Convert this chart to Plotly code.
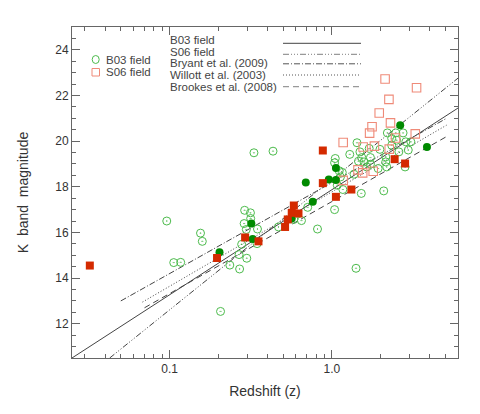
import plotly.graph_objects as go

# B03 field, open symbols
b03_z = [0.096, 0.106, 0.117, 0.155, 0.159, 0.206, 0.235, 0.268, 0.270, 0.278,
         0.288, 0.290, 0.297, 0.299, 0.315, 0.316, 0.331, 0.346, 0.348, 0.434,
         0.469, 0.583, 0.650, 0.710, 0.816, 1.04, 1.05, 1.04, 1.08, 1.11,
         1.13, 1.16, 1.17, 1.29, 1.37, 1.41, 1.43, 1.46, 1.49, 1.52,
         1.53, 1.58, 1.64, 1.70, 1.73, 1.73, 1.93, 1.98, 2.09, 2.15,
         2.15, 2.18, 2.20, 2.34, 2.34, 2.48, 2.51, 2.59, 2.75, 2.83,
         2.86, 2.96, 3.07]
b03_k = [16.50, 14.68, 14.69, 15.97, 15.61, 12.54, 14.57, 15.03, 14.40, 15.48,
         16.39, 16.97, 16.13, 14.87, 16.86, 16.61, 19.49, 15.51, 16.15, 19.56,
         16.24, 16.57, 16.52, 17.10, 16.15, 19.05, 19.24, 17.00, 18.07, 18.70,
         18.43, 18.63, 17.88, 19.42, 18.55, 14.43, 19.93, 19.12, 19.53, 17.71,
         19.28, 19.09, 18.87, 19.68, 19.28, 18.99, 18.80, 19.64, 17.82, 19.09,
         19.31, 18.87, 20.36, 20.12, 19.82, 20.36, 20.04, 19.53, 20.36, 18.87,
         19.97, 19.61, 19.97]

# B03 field, filled symbols
b03f_z = [0.203, 0.319, 0.325, 0.566, 0.691, 0.763, 0.958, 1.06, 1.06, 2.64, 3.86]
b03f_k = [15.13, 16.39, 15.71, 16.61, 18.19, 17.34, 18.32, 18.82, 18.30, 20.70, 19.74]

# S06 field, open symbols
s06_z = [2.13, 3.33, 2.25, 1.96, 2.30, 1.77, 1.71, 3.27, 1.175, 2.47,
         1.56, 1.83, 2.26, 1.45, 1.55, 1.80, 1.175]
s06_k = [22.72, 22.34, 21.83, 21.23, 20.80, 20.63, 20.35, 20.32, 19.94, 20.14,
         19.74, 19.78, 19.65, 18.74, 18.61, 18.68, 18.28]

# S06 field, filled symbols
s06f_z = [0.0322, 0.196, 0.292, 0.353, 0.515, 0.535, 0.566, 0.583, 0.623,
          0.880, 0.880, 1.06, 1.32, 2.44, 2.83]
s06f_k = [14.55, 14.88, 15.78, 15.61, 16.24, 16.57, 16.86, 17.18, 16.83,
          19.59, 18.16, 17.56, 17.88, 19.21, 19.02]

# K-z relations (end points)
fit_b03_z = [0.025, 6.0]
fit_b03_k = [10.5, 21.45]
fit_s06_z = [0.0427, 6.0]
fit_s06_k = [10.5, 22.76]
bryant_z = [0.05, 5.1]
bryant_k = [13.0, 21.0]
willott_z = [0.068, 5.1]
willott_k = [12.95, 20.7]
brookes_z = [0.07, 5.1]
brookes_k = [12.7, 20.2]

line_names = ["B03 field", "S06 field", "Bryant et al. (2009)",
              "Willott et al. (2003)", "Brookes et al. (2008)"]
point_names = ["B03 field", "S06 field"]

FONT = "Liberation Sans, Arial, sans-serif"
LINE_COL = "#444444"
DASHES = ["solid", "6px,2px,1px,2px,1px,2px,1px,2px", "6px,2px,1px,2px",
          "1px,2px", "6px,4px"]
LEGEND_COLS = ["#444444", "#999999", "#555555", "#555555", "#999999"]

# page has an 8px body margin, so the figure is 8px smaller than the window
OFF = 8
W, H = 480 - OFF, 414 - OFF
# plot area (window pixels): x 72..458, y 27..358
L, T = 72 - OFF, 27 - OFF
PW, PH = 386, 331
R, B = W - L - PW, H - T - PH


def px(x):
    return (x - 72) / PW


def py(y):
    return (358 - y) / PH


fig = go.Figure()

fits = [(fit_b03_z, fit_b03_k), (fit_s06_z, fit_s06_k), (bryant_z, bryant_k),
        (willott_z, willott_k), (brookes_z, brookes_k)]
for (zz, kk), name, dash in zip(fits, line_names, DASHES):
    fig.add_trace(go.Scatter(x=zz, y=kk, mode="lines", name=name,
                             line=dict(color=LINE_COL, width=1, dash=dash)))

fig.add_trace(go.Scatter(x=b03_z, y=b03_k, mode="markers", name="B03 field",
                         marker=dict(symbol="circle-open-dot", size=8, color="#4cbb4c",
                                     line=dict(width=1))))
fig.add_trace(go.Scatter(x=s06_z, y=s06_k, mode="markers", name="S06 field",
                         marker=dict(symbol="square-open", size=8.5, color="#ef8a78",
                                     line=dict(width=1.1))))
fig.add_trace(go.Scatter(x=b03f_z, y=b03f_k, mode="markers", name="B03 field (filled)",
                         marker=dict(symbol="circle", size=8, color="#008a00")))
fig.add_trace(go.Scatter(x=s06f_z, y=s06f_k, mode="markers", name="S06 field (filled)",
                         marker=dict(symbol="square", size=8, color="#d42a00")))

# legend drawn by hand, IDL style
shapes = []
annotations = []
text_y = [40, 51.7, 63.3, 75, 87.3]
line_y = [43.3, 54.3, 63.8, 75, 86.7]
for name, dash, col, ty, ly in zip(line_names, DASHES, LEGEND_COLS, text_y, line_y):
    annotations.append(dict(x=px(168), y=py(ty), xref="paper", yref="paper", text=name,
                            showarrow=False, xanchor="left", yanchor="middle",
                            font=dict(family=FONT, size=11.5, color="#444444")))
    shapes.append(dict(type="line", xref="paper", yref="paper", x0=px(283), x1=px(361),
                       y0=py(ly), y1=py(ly),
                       line=dict(color=col, width=1.3 if col == "#999999" else 1, dash=dash)))

shapes.append(dict(type="circle", xref="paper", yref="paper", x0=px(92.2), x1=px(99.2),
                   y0=py(63.5), y1=py(55.5), line=dict(color="#4cbb4c", width=1)))
shapes.append(dict(type="rect", xref="paper", yref="paper", x0=px(92), x1=px(99.5),
                   y0=py(76), y1=py(68.5), line=dict(color="#ef8a78", width=1)))
for name, ty in zip(point_names, [59.5, 72]):
    annotations.append(dict(x=px(104), y=py(ty), xref="paper", yref="paper", text=name,
                            showarrow=False, xanchor="left", yanchor="middle",
                            font=dict(family=FONT, size=11.5, color="#444444")))

fig.update_layout(
    width=W, height=H,
    margin=dict(l=L, r=R, t=T, b=B),
    paper_bgcolor="white", plot_bgcolor="white",
    showlegend=False,
    font=dict(family=FONT, size=12, color="#333333"),
    shapes=shapes, annotations=annotations,
)
fig.update_xaxes(
    type="log", range=[-1.602, 0.778],
    tickvals=[0.1, 1.0], ticktext=["0.1", "1.0"],
    ticks="inside", ticklen=8, tickcolor="#666666",
    minor=dict(ticks="inside", ticklen=4, tickcolor="#666666",
               tickvals=[0.03, 0.04, 0.05, 0.06, 0.07, 0.08, 0.09,
                         0.2, 0.3, 0.4, 0.5, 0.6, 0.7, 0.8, 0.9, 2, 3, 4, 5, 6]),
    showline=True, linecolor="#666666", mirror="allticks", showgrid=False, zeroline=False,
    title=dict(text="Redshift (z)", standoff=10),
)
fig.update_yaxes(
    range=[10.5, 25], tick0=0, dtick=2,
    ticks="inside", ticklen=8, tickcolor="#666666",
    minor=dict(ticks="inside", ticklen=4, dtick=0.5, tickcolor="#666666"),
    showline=True, linecolor="#666666", mirror="allticks", showgrid=False, zeroline=False,
    title=dict(text="K  band  magnitude", standoff=23),
)

fig.write_html("out.html")
